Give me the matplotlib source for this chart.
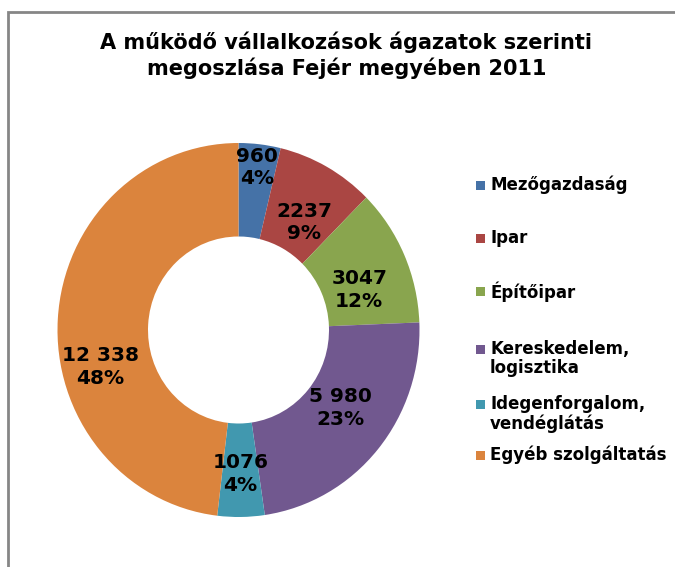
import numpy as np
import matplotlib
matplotlib.use("Agg")
import matplotlib.pyplot as plt
from matplotlib.patches import Rectangle

# ----------------------------- Data -----------------------------
categories = ["Mezőgazdaság", "Ipar", "Építőipar", "Kereskedelem,\nlogisztika",
              "Idegenforgalom,\nvendéglátás", "Egyéb szolgáltatás"]
values = [960, 2237, 3047, 5980, 1076, 12338]
value_labels = ["960", "2237", "3047", "5 980", "1076", "12 338"]
colors = ["#4572A7", "#AA4643", "#89A54E", "#71588F", "#4198AF", "#DB843D"]

# label placement (fraction of outer radius, angle shift in degrees)
LABEL_R = [0.875, 0.68, 0.70, 0.70, 0.77, 0.79]
LABEL_SHIFT = [0, -3, -6, 3, 0, 18]

W, H = 675, 567
fig = plt.figure(figsize=(W / 100, H / 100), dpi=100)

# chart frame (only left/top visible in the crop)
fig.patches.append(Rectangle((8 / W, -0.1), 1.2, 1.1 - 12 / H,
                             transform=fig.transFigure, fill=False,
                             edgecolor="#868686", linewidth=2, zorder=0))

fig.text(0.513, 1 - 55 / H,
         "A működő vállalkozások ágazatok szerinti\nmegoszlása Fejér megyében 2011",
         ha="center", va="center", fontsize=15, fontweight="bold",
         linespacing=1.25)

# ----------------------------- Donut -----------------------------
cx, cy, rx, ry = 238.5, 330, 181, 187
ax = fig.add_axes([(cx - rx) / W, 1 - (cy + ry) / H, 2 * rx / W, 2 * ry / H])
wedges, _ = ax.pie(values, colors=colors, startangle=90, counterclock=False,
                   radius=1.0, wedgeprops=dict(width=0.5, linewidth=0))
ax.set_aspect("auto")
ax.set_xlim(-1, 1)
ax.set_ylim(-1, 1)
ax.axis("off")

total = sum(values)
for w, v, lab, r, sh in zip(wedges, values, value_labels, LABEL_R, LABEL_SHIFT):
    ang = np.deg2rad((w.theta1 + w.theta2) / 2 + sh)
    pct = f"{100 * v / total:.0f}%"
    ax.text(r * np.cos(ang), r * np.sin(ang), f"{lab}\n{pct}",
            ha="center", va="center", fontsize=14.5, fontweight="bold",
            linespacing=1.25)

# ----------------------------- Legend -----------------------------
lax = fig.add_axes([0, 0, 1, 1])
lax.set_xlim(0, W)
lax.set_ylim(H, 0)
lax.axis("off")
leg_y = [185, 238, 291, 349, 404, 455]
for y, c, name in zip(leg_y, colors, categories):
    lax.add_patch(Rectangle((476, y - 4.5), 9, 9, facecolor=c, edgecolor="none"))
    lax.text(490, y - 9, name, ha="left", va="top", fontsize=12,
             fontweight="bold", linespacing=1.1)

fig.savefig("out.png", dpi=100)
